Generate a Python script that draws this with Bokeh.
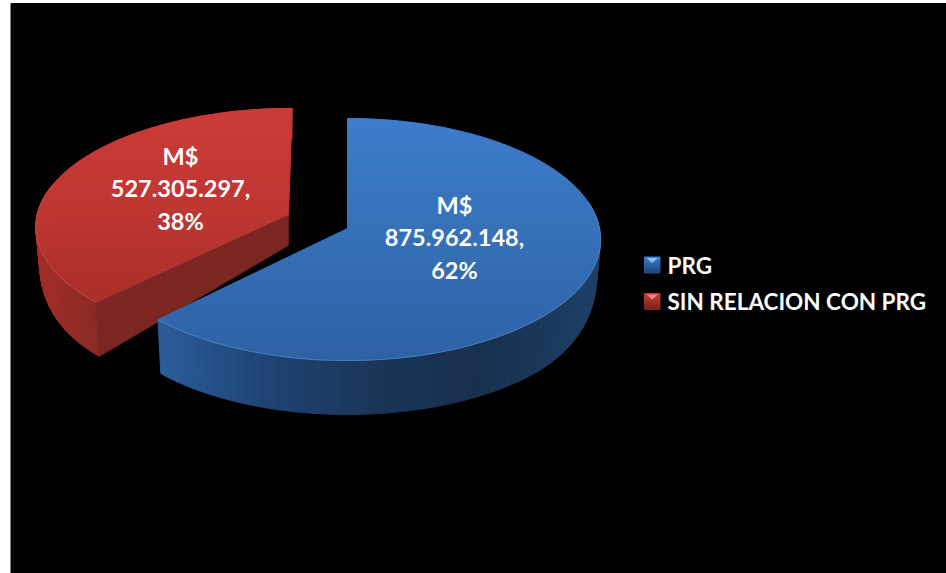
import math
from bokeh.plotting import figure
from bokeh.models import Range1d
from bokeh.core.properties import value
from bokeh.embed import file_html
from bokeh.resources import INLINE

# ---- data -----
categories = ["PRG", "SIN RELACION CON PRG"]
amounts = [875962148, 527305297]
label_lines = [["M$", "875.962.148,", "62%"], ["M$", "527.305.297,", "38%"]]

W, H = 946, 573
FONT = value("Lato")

p = figure(width=W, height=H, output_backend="svg", toolbar_location=None,
           x_range=Range1d(0, W), y_range=Range1d(H, 0),
           min_border=0, margin=(0, 0, 0, 0),
           background_fill_color="white", border_fill_color="white")
p.axis.visible = False
p.grid.visible = False
p.outline_line_color = None
p.quad(left=[10.5], right=[W], top=[3], bottom=[H], color="#000000")


def hex2rgb(c):
    return tuple(int(c[i:i + 2], 16) for i in (1, 3, 5))


def lerp_color(stops, f):
    f = max(0, min(1, f))
    n = len(stops) - 1
    i = min(int(f * n), n - 1)
    g = f * n - i
    a, b = hex2rgb(stops[i]), hex2rgb(stops[i + 1])
    return "#%02x%02x%02x" % tuple(round(a[j] + (b[j] - a[j]) * g) for j in range(3))


K = 0.0909
RX, RY = 252, 120


def top_pt(t, st):
    u, v = math.sin(t), math.cos(t)
    d = 1 + K * v
    dy = -RY * v / d * st["ys"]
    return st["ax"] + RX * st["xs"] * u / d - st["shear"] * dy, st["ay"] + dy


def low_pt(t, st):
    x, y = top_pt(t, st)
    v = math.cos(t)
    depth = 31 + 23 * math.sin(min(1, max(0, -v / 0.75)) * math.pi / 2)
    return st["ax"] + 0.985 * (x - st["ax"]), y + depth


def clip(poly, y0, y1):
    def cut(pts, inside, yc):
        out = []
        for i, a in enumerate(pts):
            b = pts[(i + 1) % len(pts)]
            ia, ib = inside(a), inside(b)
            if ia:
                out.append(a)
            if ia != ib:
                g = (yc - a[1]) / (b[1] - a[1])
                out.append((a[0] + (b[0] - a[0]) * g, yc))
        return out
    r = cut(poly, lambda q: q[1] >= y0, y0)
    return cut(r, lambda q: q[1] <= y1, y1) if r else r


def draw_slice(t0, t1, st):
    n = 120
    ts = [t0 + (t1 - t0) * i / n for i in range(n + 1)]
    xs, ys, cs = [], [], []
    for a, b in zip(ts[:-1], ts[1:]):
        ta, tb, la, lb = top_pt(a, st), top_pt(b, st), low_pt(a, st), low_pt(b, st)
        xs.append([ta[0], tb[0], lb[0], la[0]])
        ys.append([ta[1], tb[1], lb[1], la[1]])
        cs.append(lerp_color(st["wall"], (ta[0] - st["wx0"]) / (st["wx1"] - st["wx0"])))
    p.patches(xs, ys, fill_color=cs, line_color=cs, line_width=0.9)
    if st["cut"]:
        e = st["cut_t"]
        A = (st["ax"], st["ay"])
        B = (st["ax"], st["ay"] + 31)
        c0, c1 = top_pt(e, st), low_pt(e, st)
        p.patch([A[0], c0[0], c1[0], B[0]], [A[1], c0[1], c1[1], B[1]],
                fill_color=st["cut"], line_color=st["cut"], line_width=0.6)
    poly = [(st["ax"], st["ay"])] + [top_pt(t, st) for t in ts]
    ymin, ymax = min(q[1] for q in poly), max(q[1] for q in poly)
    step = 4
    y = ymin
    bx, by, bc = [], [], []
    while y < ymax:
        c = clip(poly, y, y + step)
        if len(c) >= 3:
            col = lerp_color(st["face"], (y - ymin) / (ymax - ymin))
            bx.append([q[0] for q in c])
            by.append([q[1] for q in c])
            bc.append(col)
        y += step
    p.patches(bx, by, fill_color=bc, line_color=bc, line_width=1.0)
    rim = [t for t in ts if math.cos(t) < 0.25]
    rim_pts = [top_pt(t, st) for t in rim]
    p.line([q[0] for q in rim_pts], [q[1] for q in rim_pts],
           line_color=st["rim"], line_width=1.1, line_alpha=0.55)


total = sum(amounts)
split = 2 * math.pi * amounts[0] / total

red_style = dict(ax=288, ay=214, xs=0.997, ys=0.965, shear=0.035,
                 face=["#cc3b37", "#bf3733", "#a92f2b"],
                 wall=["#a52f2a", "#8a2a24"], wx0=37, wx1=97,
                 cut="#7b2620", cut_t=split, rim="#d0524d")
blue_style = dict(ax=347, ay=228, xs=1.0, ys=1.0, shear=0.0,
                  face=["#3e7dca", "#3670b8", "#2e62a4"],
                  wall=["#2b5e9c", "#1f4474", "#1a3558", "#17304f", "#1e4068"], wx0=157, wx1=598,
                  cut=None, cut_t=0, rim="#5a93d2")

draw_slice(split, 2 * math.pi, red_style)
draw_slice(0, split, blue_style)

label_x = [454, 180]
label_y = [204, 155]
for lines, lx, ly in zip(label_lines, label_x, label_y):
    p.text([lx] * 3, [ly + 32.5 * i for i in range(3)], text=lines,
           text_color="#ffffff", text_font=FONT, text_font_style="bold",
           text_font_size="23.5px", text_align="center", text_baseline="middle")

legend_y = [264.5, 301]
swatch = [("#3d7cc9", "#20497f", "#86bdf2"), ("#c93a36", "#7f2420", "#f08a85")]
for name, y, (c0, c1, c2) in zip(categories, legend_y, swatch):
    steps = 8
    cols = [lerp_color([c0, c1], i / (steps - 1)) for i in range(steps)]
    p.quad(left=[644] * steps, right=[659.5] * steps,
           top=[y - 8 + 2 * i for i in range(steps)],
           bottom=[y - 6 + 2 * i for i in range(steps)], color=cols)
    p.patch([646, 657.5, 651.7], [y - 7, y - 7, y - 2], fill_color=c2, line_color=None)
    p.text([667], [y], text=[name], text_color="#ffffff", text_font=FONT,
           text_font_style="bold", text_font_size="22.5px",
           text_align="left", text_baseline="middle")

open("out.html", "w").write(file_html(p, INLINE))
